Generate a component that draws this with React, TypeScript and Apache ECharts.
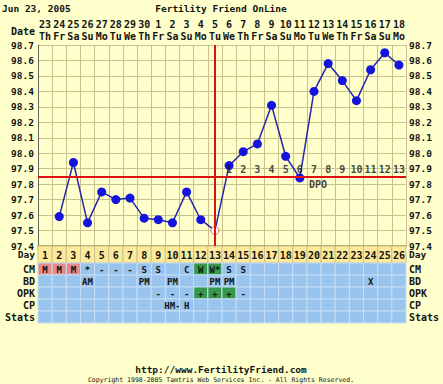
import React, { useEffect, useRef } from "react";
import * as echarts from "echarts";

const dates = ["23","24","25","26","27","28","29","30","1","2","3","4","5","6","7","8","9","10","11","12","13","14","15","16","17","18"];
const weekdays = ["Th","Fr","Sa","Su","Mo","Tu","We","Th","Fr","Sa","Su","Mo","Tu","We","Th","Fr","Sa","Su","Mo","Tu","We","Th","Fr","Sa","Su","Mo"];
const cycleDays = ["1","2","3","4","5","6","7","8","9","10","11","12","13","14","15","16","17","18","19","20","21","22","23","24","25","26"];
const temps: (number | null)[] = [null, 97.59, 97.94, 97.55, 97.75, 97.70, 97.71, 97.58, 97.57, 97.55, 97.75, 97.57, 97.50, 97.92, 98.01, 98.06, 98.31, 97.98, 97.84, 98.40, 98.58, 98.47, 98.34, 98.54, 98.65, 98.57];
const coverline = 97.85;
const ovulationIndex = 12;
const dpoStartIndex = 13;
const dpoLabels = ["1","2","3","4","5","6","7","8","9","10","11","12","13"];
const dpoTextIndex = 19;
const yTicksMin = 97.4;
const yTicksMax = 98.7;

const rowNames = ["CM", "BD", "OPK", "CP", "Stats"];
const cm = ["M","M","M","*","-","-","-","S","S","","C","W","W*","S","S","","","","","","","","","","",""];
const cmMarks = ["pink","pink","pink","","","","","","","","","green","green","","","","","","","","","","","","",""];
const bd = ["","","","AM","","","","PM","","PM","","","PM","PM","","","","","","","","","","X","",""];
const opk = ["","","","","","","","","-","-","-","+","+","+","-","","","","","","","","","","",""];
const opkMarks = ["","","","","","","","","","","","green","green","green","","","","","","","","","","","",""];
const cp = ["","","","","","","","","","HM-","H","","","","","","","","","","","","","","",""];
const stats = ["","","","","","","","","","","","","","","","","","","","","","","","","",""];

const FONT = "DejaVu Sans Mono";
const TEXT = "#141414";
const BG = "#ffffcc";
const GRID = "#c9c28f";
const BLUE = "#99c4ee";
const BLUE_LINE = "#c6dcf2";
const DAY_BG = "#fde99a";
const PINK = "#e5898a";
const GREEN = "#36984a";

export default function App() {
  const ref = useRef<HTMLDivElement>(null);
  useEffect(() => {
    if (!ref.current) return;
    const chart = echarts.init(ref.current, null, { renderer: "svg" });
    const xCats = dates.map((d, i) => d + "\n" + weekdays[i]);
    const tableRows = [cm, bd, opk, cp, stats];
    const markRows: (string[] | null)[] = [cmMarks, null, opkMarks, null, null];
    const cells: { x: number; y: number; text: string; fill: string }[] = [];
    tableRows.forEach((row, r) => {
      row.forEach((t, i) => {
        const m = markRows[r] ? markRows[r]![i] : "";
        cells.push({ x: i, y: r, text: t, fill: m === "pink" ? PINK : m === "green" ? GREEN : BLUE });
      });
    });
    const dayCells = cycleDays.map((d, i) => ({ x: i, y: 0, text: d, fill: DAY_BG }));

    const cellRender = (list: any[], stroke: string, font: string) =>
      (params: any, api: any) => {
        const c = list[params.dataIndex];
        const p = api.coord([c.x, c.y]);
        const s = api.size([1, 1]);
        return {
          type: "group",
          children: [
            { type: "rect", shape: { x: p[0] - s[0] / 2, y: p[1] - s[1] / 2, width: s[0], height: s[1] }, style: { fill: c.fill, stroke, lineWidth: 1 } },
            { type: "text", style: { text: c.text, x: p[0], y: p[1] + 0.5, align: "center", verticalAlign: "middle", font, fill: TEXT } },
          ],
        };
      };

    const labelStyle = { fontFamily: FONT, fontWeight: "bold" as const, fontSize: 10, color: TEXT };

    chart.setOption({
      animation: false,
      backgroundColor: BG,
      textStyle: { fontFamily: FONT },
      grid: [
        { left: 38, top: 45, width: 368, height: 201 },
        { left: 38, top: 246, width: 368, height: 17 },
        { left: 38, top: 263, width: 368, height: 60 },
      ],
      xAxis: [
        { gridIndex: 0, type: "category", position: "top", data: xCats, boundaryGap: true,
          axisLine: { show: false }, axisTick: { show: false },
          axisLabel: { ...labelStyle, interval: 0, lineHeight: 12, margin: 3 },
          splitLine: { show: true, interval: 0, lineStyle: { color: GRID, width: 1 } } },
        { gridIndex: 0, type: "category", position: "bottom", data: xCats,
          axisLine: { show: true, lineStyle: { color: "#8c8446", width: 1.5 } }, axisTick: { show: false }, axisLabel: { show: false } },
        { gridIndex: 1, type: "category", data: cycleDays, show: false },
        { gridIndex: 2, type: "category", data: cycleDays, show: false },
      ],
      yAxis: [
        { gridIndex: 0, type: "value", min: yTicksMin, max: yTicksMax, interval: 0.1, position: "left",
          axisLine: { show: true, lineStyle: { color: "#666" } }, axisTick: { show: false },
          axisLabel: { ...labelStyle, fontSize: 9.5, margin: 4, formatter: (v: number) => v.toFixed(1) },
          splitLine: { show: true, lineStyle: { color: GRID, width: 1 } } },
        { gridIndex: 0, type: "value", min: yTicksMin, max: yTicksMax, interval: 0.1, position: "right",
          axisLine: { show: false }, axisTick: { show: false },
          axisLabel: { ...labelStyle, fontSize: 9.5, margin: 3, formatter: (v: number) => v.toFixed(1) },
          splitLine: { show: false } },
        { gridIndex: 1, type: "category", data: ["Day"], position: "left", axisLine: { show: false }, axisTick: { show: false }, axisLabel: { ...labelStyle, fontSize: 9.5, interval: 0, margin: 3, padding: [5, 0, 0, 0] } },
        { gridIndex: 1, type: "category", data: ["Day"], position: "right", axisLine: { show: false }, axisTick: { show: false }, axisLabel: { ...labelStyle, fontSize: 9.5, interval: 0, margin: 3, padding: [5, 0, 0, 0] } },
        { gridIndex: 2, type: "category", data: rowNames, inverse: true, position: "left", axisLine: { show: false }, axisTick: { show: false }, axisLabel: { ...labelStyle, interval: 0, margin: 3 } },
        { gridIndex: 2, type: "category", data: rowNames, inverse: true, position: "right", axisLine: { show: false }, axisTick: { show: false }, axisLabel: { ...labelStyle, interval: 0, margin: 3 } },
      ],
      series: [
        {
          type: "line", xAxisIndex: 0, yAxisIndex: 0, connectNulls: false,
          data: temps.map((t, i) => i === ovulationIndex
            ? { value: t, symbolSize: 8, itemStyle: { color: "#ffffff", borderColor: "#e07070", borderWidth: 1 } }
            : t),
          symbol: "circle", symbolSize: 9,
          lineStyle: { color: "#2626a6", width: 1.5 },
          itemStyle: { color: "#1414dc" },
          markLine: {
            silent: true, symbol: "none", label: { show: false },
            lineStyle: { color: "#dd1111", width: 2, type: "solid" },
            data: [{ yAxis: coverline }, { xAxis: ovulationIndex }],
          },
          z: 3,
        },
        {
          type: "scatter", xAxisIndex: 0, yAxisIndex: 0, symbolSize: 0, silent: true,
          data: dpoLabels.map((l, i) => [dpoStartIndex + i, coverline]),
          label: { show: true, position: "top", distance: 2, formatter: (p: any) => dpoLabels[p.dataIndex], ...labelStyle },
          z: 4,
        },
        {
          type: "scatter", xAxisIndex: 0, yAxisIndex: 0, symbolSize: 0, silent: true,
          data: [[dpoTextIndex, coverline]],
          label: { show: true, position: "bottom", distance: 3, offset: [4, 0], formatter: "DPO", ...labelStyle },
          z: 4,
        },
        {
          type: "custom", xAxisIndex: 2, yAxisIndex: 2, silent: true,
          data: dayCells.map((c) => [c.x, c.y]),
          renderItem: cellRender(dayCells, GRID, `bold 10px ${FONT}`),
        },
        {
          type: "custom", xAxisIndex: 3, yAxisIndex: 4, silent: true,
          data: cells.map((c) => [c.x, c.y]),
          renderItem: cellRender(cells, BLUE_LINE, `bold 9px ${FONT}`),
        },
      ],
      graphic: [
        { type: "text", x: 2, y: 8, style: { text: "Jun 23, 2005", font: `bold 9.5px ${FONT}`, fill: TEXT, verticalAlign: "middle" } },
        { type: "text", x: 221, y: 8, style: { text: "Fertility Friend OnLine", font: `bold 9.5px ${FONT}`, fill: TEXT, align: "center", verticalAlign: "middle" } },
        { type: "text", x: 35, y: 31, style: { text: "Date", font: `bold 10px ${FONT}`, fill: TEXT, align: "right", verticalAlign: "middle" } },
        { type: "text", x: 221, y: 369, style: { text: "http://www.FertilityFriend.com", font: `bold 9.5px ${FONT}`, fill: TEXT, align: "center", verticalAlign: "middle" } },
        { type: "text", x: 221, y: 380, style: { text: "Copyright 1998-2005 Tamtris Web Services Inc. - All Rights Reserved.", font: `6.5px ${FONT}`, fill: TEXT, align: "center", verticalAlign: "middle" } },
      ],
    });
    return () => chart.dispose();
  }, []);
  return <div ref={ref} style={{ position: "absolute", left: 0, top: 0, width: 443, height: 384 }} />;
}
